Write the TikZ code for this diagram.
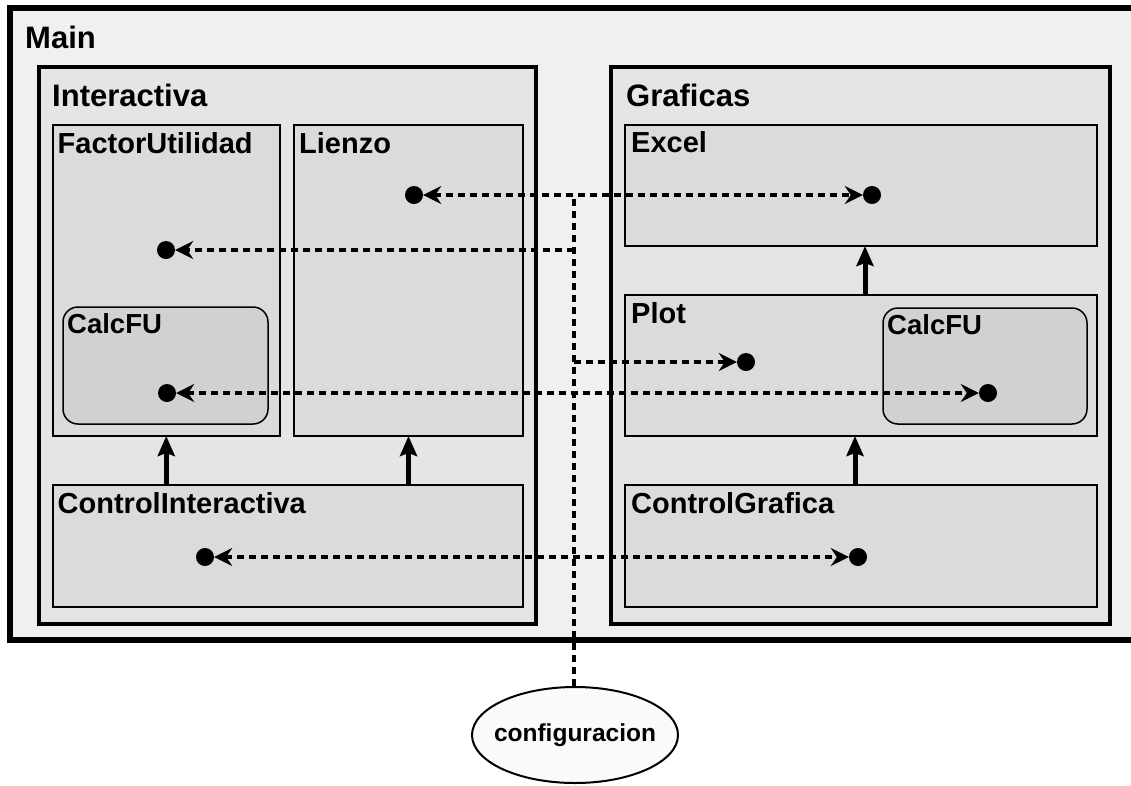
\documentclass[tikz,border=0pt]{standalone}
\usepackage{fontspec}
\setmainfont{Liberation Sans}
\usetikzlibrary{positioning,calc,shapes.geometric,arrows.meta}

\begin{document}
\begin{tikzpicture}[x=1pt,y=-1pt,
  frame/.style={draw, anchor=north west, inner sep=0pt, outer sep=0pt},
  mainbox/.style={frame, line width=6pt, fill=black!6},
  groupbox/.style={frame, line width=4pt, fill=black!10},
  modbox/.style={frame, line width=2pt, fill=black!14},
  subbox/.style={frame, line width=1.5pt, fill=black!18, rounded corners=15pt},
  title/.style={anchor=base west, inner sep=0pt, font=\bfseries\fontsize{31}{37}\selectfont},
  modtitle/.style={title, font=\bfseries\fontsize{29}{35}\selectfont},
  subtitle/.style={title, font=\bfseries\fontsize{27.5}{33}\selectfont},
  dot/.style={circle, fill=black, inner sep=0pt, minimum size=18pt},
  link/.style={line width=3.5pt, dash pattern=on 7pt off 5pt},
  uses/.style={line width=5pt, -{Stealth[length=20pt,width=17pt,inset=3pt]}},
  >={Stealth[length=18pt,width=18pt,inset=6pt]}]

\clip (0,0) rectangle (1131,785);

% containers
\node[mainbox, minimum width=1140pt, minimum height=632pt] (main) at (10,8) {};
\node[title] (mainlbl) at ([shift={(15,40)}]main.north west) {Main};

\node[groupbox, minimum width=497pt, minimum height=557pt] (inter) at (39,67) {};
\node[title] (interlbl) at ([shift={(13,39)}]inter.north west) {Interactiva};

\node[groupbox, minimum width=499pt, minimum height=557pt] (graf) at (611,67) {};
\node[title] (graflbl) at ([shift={(15,39)}]graf.north west) {Graficas};

% Interactiva
\node[modbox, minimum width=227.5pt, minimum height=311pt] (fu) at (52.5,125) {};
\node[modtitle] (fulbl) at ([shift={(5,28)}]fu.north west) {FactorUtilidad};

\node[modbox, minimum width=229pt, minimum height=311pt] (lz) at (294,125) {};
\node[modtitle] (lzlbl) at ([shift={(5,28)}]lz.north west) {Lienzo};

\node[subbox, minimum width=205pt, minimum height=117pt] (calcl) at (63,307) {};
\node[subtitle] (calcllbl) at ([shift={(4,26)}]calcl.north west) {CalcFU};

\node[modbox, minimum width=470.5pt, minimum height=122pt] (ctrlint) at (52.5,485) {};
\node[modtitle] (ctrlintlbl) at ([shift={(5,28)}]ctrlint.north west) {ControlInteractiva};

% Graficas
\node[modbox, minimum width=472pt, minimum height=121.5pt] (excel) at (625,124.5) {};
\node[modtitle] (excellbl) at ([shift={(6,28)}]excel.north west) {Excel};

\node[modbox, minimum width=472pt, minimum height=141pt] (plot) at (625,295) {};
\node[modtitle] (plotlbl) at ([shift={(6,28)}]plot.north west) {Plot};

\node[subbox, minimum width=204pt, minimum height=116pt] (calcr) at (883,308) {};
\node[subtitle] (calcrlbl) at ([shift={(4,26)}]calcr.north west) {CalcFU};

\node[modbox, minimum width=472pt, minimum height=122pt] (ctrlgraf) at (625,485) {};
\node[modtitle] (ctrlgraflbl) at ([shift={(6,28)}]ctrlgraf.north west) {ControlGrafica};

\node[ellipse, draw, line width=2pt, fill=black!2, inner sep=0pt,
      minimum width=206pt, minimum height=96pt] (config) at (575,735) {};
\node[font=\bfseries\fontsize{24.5}{29}\selectfont, inner sep=0pt] (configlbl) at (config) {configuracion};

% dependencies
\draw[uses] (ctrlint.north -| fu.south) -- (fu.south);
\draw[uses] (ctrlint.north -| lz.south) -- (lz.south);
\draw[uses] ([xshift=4pt]plot.north) -- ([xshift=4pt]excel.south);
\draw[uses] ([xshift=-6pt]ctrlgraf.north) -- ([xshift=-6pt]plot.south);

% ports
\node[dot] (lzdot) at (414,195) {};
\node[dot] (exdot) at (872,195) {};
\node[dot] (fudot) at (166,250) {};
\node[dot] (pldot) at (746,362) {};
\node[dot] (calcldot) at (167,393) {};
\node[dot] (calcrdot) at (988,393) {};
\node[dot] (ctrlintdot) at (205,557) {};
\node[dot] (ctrlgrafdot) at (858,557) {};

\coordinate (tap) at (574,0);
\draw[link] (config.north -| tap) -- (tap |- lzdot);
\draw[link,<->] (lzdot) -- (exdot);
\draw[link,->] (tap |- fudot) -- (fudot);
\draw[link,->] (tap |- pldot) -- (pldot);
\draw[link,<->] (calcldot) -- (calcrdot);
\draw[link,<->] (ctrlintdot) -- (ctrlgrafdot);

\end{tikzpicture}
\end{document}
